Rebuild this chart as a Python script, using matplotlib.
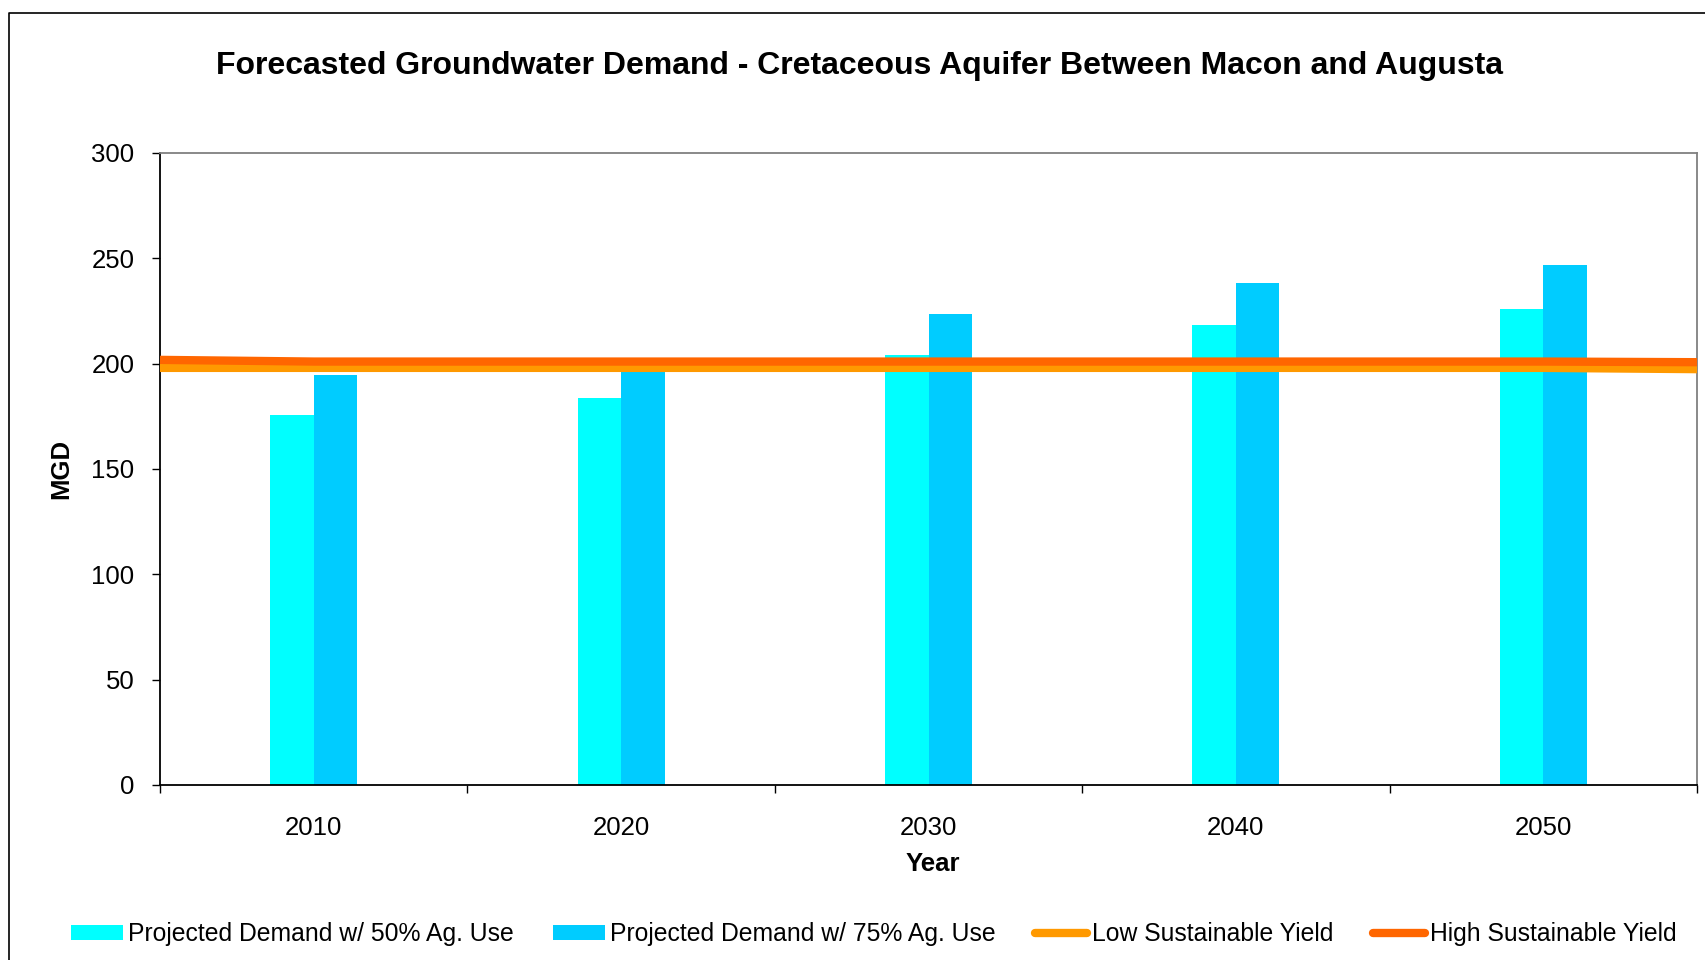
"""
Forecasted groundwater demand chart - Cretaceous aquifer between Macon and Augusta
"""

import numpy as np
import matplotlib
matplotlib.use('Agg')
import matplotlib.pyplot as plt
from matplotlib.lines import Line2D
from matplotlib.patches import Patch

plt.rcParams['font.family'] = ['Liberation Sans', 'DejaVu Sans']

# Data
years = ['2010', '2020', '2030', '2040', '2050']
demand_50 = [175.5, 183.8, 204.3, 218.3, 226.1]
demand_75 = [194.6, 202.9, 223.6, 238.4, 246.7]

# sustainable yield lines run edge to edge (category units, -0.5 .. 4.5)
yield_pos = [-0.5, 0, 1, 2, 3, 4, 4.5]
low_yield = [198.0, 198.0, 198.0, 198.0, 198.0, 198.0, 197.4]
high_yield = [201.8, 201.0, 201.0, 201.0, 201.0, 201.0, 200.7]

C50 = '#00FFFF'
C75 = '#00CCFF'
CLOW = '#FF9900'
CHIGH = '#FF6600'

fig = plt.figure(figsize=(17.05, 9.6), dpi=100)
ax = fig.add_axes([160 / 1705, 1 - 785 / 960, (1697 - 160) / 1705, (785 - 153) / 960])

x = np.arange(len(years))
bw = 0.1414
ax.bar(x - bw / 2, demand_50, width=bw, color=C50, zorder=2)
ax.bar(x + bw / 2, demand_75, width=bw, color=C75, zorder=2)

ax.plot(yield_pos, low_yield, color=CLOW, lw=6, zorder=3, solid_capstyle='butt')
ax.plot(yield_pos, high_yield, color=CHIGH, lw=6, zorder=4, solid_capstyle='butt')

ax.set_xlim(-0.5, len(years) - 0.5)
ax.set_ylim(0, 300)
ax.set_yticks(np.arange(0, 301, 50))
ax.tick_params(axis='y', labelsize=18.5, length=6, width=1, pad=12.5, direction='out')

# ticks at category boundaries, labels at centres
ax.set_xticks(np.arange(-0.5, len(years), 1))
ax.set_xticklabels([])
ax.set_xticks(x, minor=True)
ax.set_xticklabels(years, minor=True)
ax.tick_params(axis='x', which='major', length=6, width=1, direction='out')
ax.tick_params(axis='x', which='minor', length=0, labelsize=18.5, pad=22.5)

for side in ['left', 'bottom']:
    ax.spines[side].set_color('black')
    ax.spines[side].set_linewidth(1.3)
for side in ['top', 'right']:
    ax.spines[side].set_color('#808080')
    ax.spines[side].set_linewidth(1.3)

ax.set_xlabel('Year', fontsize=18.5, fontweight='bold')
ax.xaxis.set_label_coords(0.503, -0.106)
ax.set_ylabel('MGD', fontsize=18.5, fontweight='bold', labelpad=13)

fig.text(860 / 1705, 1 - 66 / 960,
         'Forecasted Groundwater Demand - Cretaceous Aquifer Between Macon and Augusta',
         ha='center', va='center', fontsize=23, fontweight='bold')

# outer chart border (cut off on the right and bottom)
fig.add_artist(Line2D([9 / 1705, 9 / 1705, 1.0], [0.0, 1 - 12.5 / 960, 1 - 12.5 / 960],
                      transform=fig.transFigure, color='black', lw=1.2))

handles = [
    Patch(facecolor=C50, label='Projected Demand w/ 50% Ag. Use'),
    Patch(facecolor=C75, label='Projected Demand w/ 75% Ag. Use'),
    Line2D([0], [0], color=CLOW, lw=6, solid_capstyle='round', label='Low Sustainable Yield'),
    Line2D([0], [0], color=CHIGH, lw=6, solid_capstyle='round', label='High Sustainable Yield'),
]
fig.legend(handles=handles, loc='center', bbox_to_anchor=(874 / 1705, 1 - 934 / 960),
           ncol=4, frameon=False, fontsize=17.8, handlelength=2.1, handleheight=0.55,
           handletextpad=0.2, columnspacing=1.6)

fig.savefig('out.png', dpi=100)
